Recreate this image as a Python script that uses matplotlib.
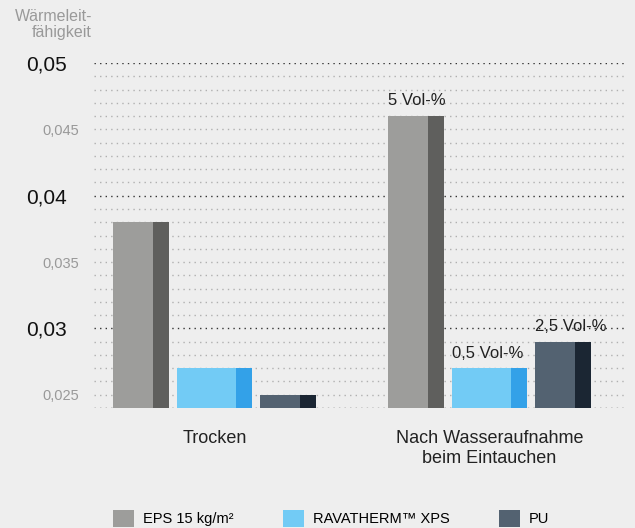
import numpy as np
import matplotlib
matplotlib.use("Agg")
import matplotlib.pyplot as plt
from matplotlib.patches import Patch

plt.rcParams['font.family'] = ['Liberation Sans', 'DejaVu Sans']

# data
categories = ["Trocken", "Nach Wasseraufnahme\nbeim Eintauchen"]
materials = ["EPS 15 kg/m²", "RAVATHERM™ XPS", "PU"]
eps_vals = [0.038, 0.046]
xps_vals = [0.027, 0.027]
pu_vals = [0.025, 0.029]
water_labels = [["", "5 Vol-%"], ["", "0,5 Vol-%"], ["", "2,5 Vol-%"]]

major_ticks = [0.03, 0.04, 0.05]
major_labels = ["0,03", "0,04", "0,05"]
minor_ticks = [0.025, 0.035, 0.045]
minor_labels = ["0,025", "0,035", "0,045"]

# styling
bg = '#eeeeee'
light_cols = ['#9d9d9b', '#72cbf5', '#536271']
dark_cols = ['#5f5f5d', '#33a1e8', '#1b2633']
lefts = [-0.369, -0.136, 0.165]
widths = [0.2036, 0.2727, 0.2036]
stripe = 0.058

fig = plt.figure(figsize=(6.35, 5.28), dpi=100, facecolor=bg)
ax = fig.add_axes([94/635, 1-408/528, 531/635, 345/528], facecolor=bg)

ymin, ymax = 0.024, 0.05
ax.set_ylim(ymin, ymax)
ax.set_xlim(-0.438, 1.493)

# dotted grid every 0.001
for v in np.arange(24, 51) / 1000.0:
    strong = round(v * 1000) in (24, 30, 40, 50)
    ax.axhline(v, color='#333333' if strong else '#b0b0b0', lw=1.0,
               ls=(0, (1, 3)), zorder=0)

x = np.arange(len(categories))
series = [eps_vals, xps_vals, pu_vals]
for i, vals in enumerate(series):
    vals = np.array(vals)
    ax.bar(x + lefts[i], vals - ymin, width=widths[i], bottom=ymin, align='edge',
           color=light_cols[i], zorder=2)
    ax.bar(x + lefts[i] + widths[i] - stripe, vals - ymin, width=stripe, bottom=ymin,
           align='edge', color=dark_cols[i], zorder=2)
    for j, v in enumerate(vals):
        if water_labels[i][j]:
            ax.annotate(water_labels[i][j], (x[j] + lefts[i], v), xytext=(0, 5.5),
                        textcoords='offset points', ha='left', va='bottom',
                        fontsize=12, color='#222222', zorder=3)

for s in ax.spines.values():
    s.set_visible(False)

ax.set_xticks(x)
ax.set_xticklabels(categories, fontsize=13, color='#222222', linespacing=1.25)
ax.tick_params(axis='x', length=0, pad=16)

ax.set_yticks(major_ticks)
ax.set_yticklabels(major_labels, fontsize=15, color='#111111')
ax.set_yticks(minor_ticks, minor=True)
ax.set_yticklabels(minor_labels, minor=True, fontsize=10.5, color='#999999')
ax.tick_params(axis='y', which='major', length=0, pad=19.5)
ax.tick_params(axis='y', which='minor', length=0, pad=11)

fig.text(92/635, 1-9/528, "Wärmeleit-\nfähigkeit", ha='right', va='top',
         multialignment='right', fontsize=11.5, color='#999999', linespacing=1.05)

handles = [Patch(facecolor=c) for c in light_cols]
fig.legend(handles, materials, loc='upper left', bbox_to_anchor=(113/635, 1-510/528),
           ncol=3, frameon=False, fontsize=10.5, handlelength=1.45, handleheight=1.45,
           handletextpad=0.6, columnspacing=3.4, borderpad=0, borderaxespad=0)

fig.savefig('out.png', dpi=100, facecolor=bg)
